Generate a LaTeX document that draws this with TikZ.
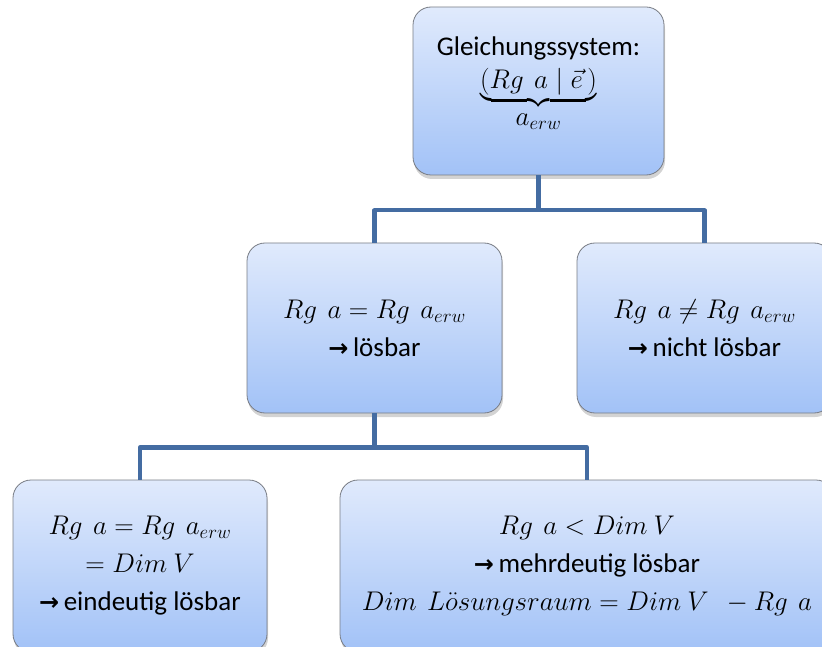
\RequirePackage{fix-cm}
\documentclass[tikz,border=0pt]{standalone}
\usepackage{amsmath}
\usepackage{fontspec}
\setmainfont{Carlito}
\newfontfamily\arrowfont{DejaVu Sans}
\usetikzlibrary{shadows}
\definecolor{boxtop}{RGB}{224,234,252}
\definecolor{boxbot}{RGB}{162,194,247}
\definecolor{boxedge}{RGB}{120,124,132}
\definecolor{linkblue}{RGB}{68,108,162}
\newcommand{\arr}{{\arrowfont\bfseries\fontsize{24}{24}\selectfont →}\,}
\newcommand{\wsp}{\mskip 7mu}
\tikzset{
  box/.style={draw=boxedge, line width=0.8pt, rounded corners=18pt,
    top color=boxtop, bottom color=boxbot, align=center,
    font=\fontsize{27}{38}\selectfont, inner sep=0pt,
    drop shadow={opacity=0.35, shadow xshift=1pt, shadow yshift=-4pt}},
  link/.style={draw=linkblue, line width=4.2pt, line join=round}
}
\begin{document}
\begin{tikzpicture}[x=1pt,y=-1pt]
\useasboundingbox (0,0) rectangle (822,647);
\begin{scope}
\clip (0,0) rectangle (822,647);
\node[box, minimum width=251pt, minimum height=168pt] (top) at (538.5,91)
  {\raisebox{35pt}[0pt][0pt]{\begin{tabular}[t]{@{}c@{}}Gleichungssystem:\\[-5pt]
   $\underbrace{(Rg\wsp a\mid\vec{e}\,)}_{\textstyle\rule{0pt}{17pt}a_{erw}}$\end{tabular}}};
\node[box, minimum width=255pt, minimum height=170pt] (ml) at (374.5,328)
  {$Rg\wsp a = Rg\wsp a_{erw}$\\ \arr lösbar};
\node[box, minimum width=255pt, minimum height=170pt] (mr) at (704.5,328)
  {$Rg\wsp a \neq Rg\wsp a_{erw}$\\ \arr nicht lösbar};
\node[box, minimum width=254pt, minimum height=172pt] (bl) at (140,566)
  {$Rg\wsp a = Rg\wsp a_{erw}$\\ $= Dim\ V$\\ \arr eindeutig lösbar};
\node[box, minimum width=494pt, minimum height=172pt] (br) at (587,566)
  {$Rg\wsp a < Dim\ V$\\ \arr mehrdeutig lösbar\\ $Dim\wsp L\ddot{o}sungsraum = Dim\ V\ \ - Rg\wsp a$};
\draw[link] (top.south) -- ++(0,35) -| (ml.north);
\draw[link] (top.south) -- ++(0,35) -| (mr.north);
\draw[link] (ml.south) -- ++(0,34) -| (bl.north);
\draw[link] (ml.south) -- ++(0,34) -| (br.north);
\end{scope}
\end{tikzpicture}
\end{document}
